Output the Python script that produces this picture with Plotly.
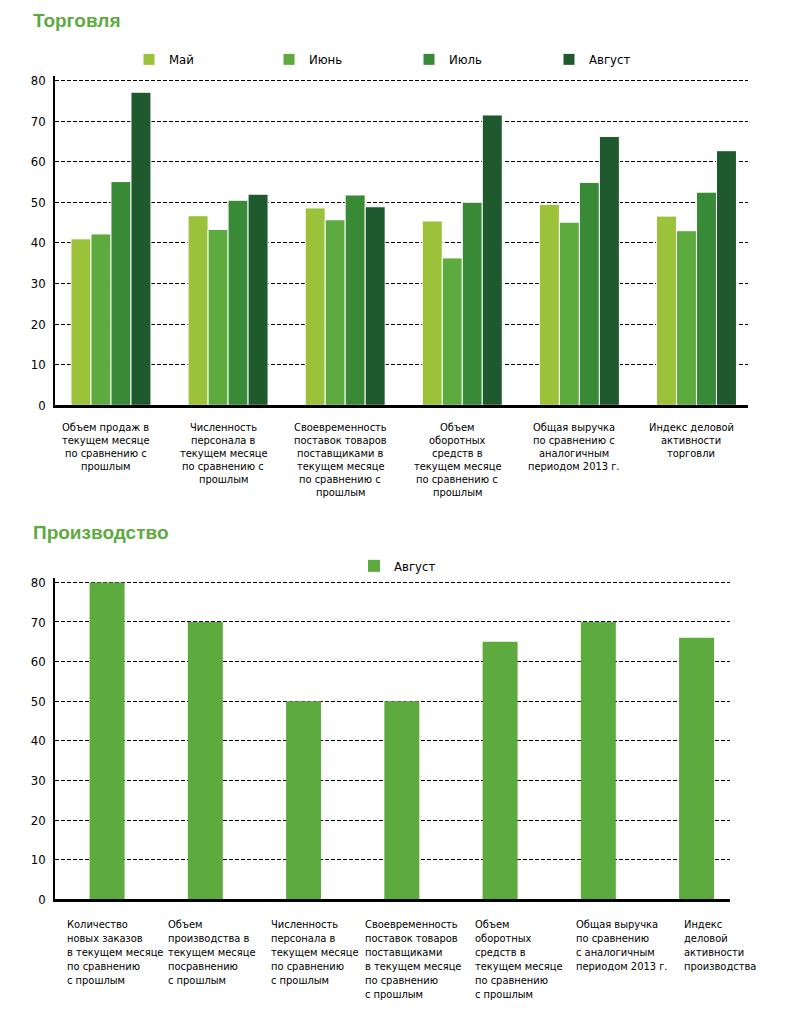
import plotly.graph_objects as go

# ---------------- DATA ----------------
trade_categories = [
    "Объем продаж в\nтекущем месяце\nпо сравнению с\nпрошлым",
    "Численность\nперсонала в\nтекущем месяце\nпо сравнению с\nпрошлым",
    "Своевременность\nпоставок товаров\nпоставщиками в\nтекущем месяце\nпо сравнению с\nпрошлым",
    "Объем\nоборотных\nсредств в\nтекущем месяце\nпо сравнению с\nпрошлым",
    "Общая выручка\nпо сравнению с\nаналогичным\nпериодом 2013 г.",
    "Индекс деловой\nактивности\nторговли",
]
trade_months = ["Май", "Июнь", "Июль", "Август"]
trade_may = [41.0, 46.7, 48.6, 45.4, 49.5, 46.6]
trade_june = [42.2, 43.3, 45.7, 36.3, 45.1, 43.0]
trade_july = [55.1, 50.5, 51.8, 50.0, 54.9, 52.5]
trade_august = [77.1, 52.0, 48.9, 71.5, 66.2, 62.7]
trade_values = [trade_may, trade_june, trade_july, trade_august]

prod_categories = [
    "Количество\nновых заказов\nв текущем месяце\nпо сравнению\nс прошлым",
    "Объем\nпроизводства в\nтекущем месяце\nпосравнению\nс прошлым",
    "Численность\nперсонала в\nтекущем месяце\nпо сравнению\nс прошлым",
    "Своевременность\nпоставок товаров\nпоставщиками\nв текущем месяце\nпо сравнению\nс прошлым",
    "Объем\nоборотных\nсредств в\nтекущем месяце\nпо сравнению\nс прошлым",
    "Общая выручка\nпо сравнению\nс аналогичным\nпериодом 2013 г.",
    "Индекс\nделовой\nактивности\nпроизводства",
]
prod_series_name = "Август"
prod_august = [80, 70, 50, 50, 65, 70, 66]

y_ticks = [0, 10, 20, 30, 40, 50, 60, 70, 80]

# ---------------- STYLE ----------------
W, H = 788, 1024
FONT = "DejaVu Sans Condensed, Liberation Sans Narrow, Arial Narrow, sans-serif"
TITLE_FONT = "Liberation Sans, Arial, sans-serif"
TITLE_GREEN = "#5DAA3F"
month_colors = ["#9BC23A", "#5DAA3F", "#388A36", "#1F5A2E"]
prod_color = "#5DAA3F"


def px_x(p):
    return p / W


def px_y(p):
    return 1 - p / H


fig = go.Figure()

# Top chart: grouped bars
for name, vals, col in zip(trade_months, trade_values, month_colors):
    fig.add_trace(go.Bar(
        x=trade_categories, y=vals, name=name,
        marker=dict(color=col, line=dict(color="white", width=1)),
        xaxis="x", yaxis="y", legend="legend",
        hoverinfo="skip",
    ))

# Bottom chart
fig.add_trace(go.Bar(
    x=prod_categories, y=prod_august, name=prod_series_name,
    marker=dict(color=prod_color, line=dict(color="white", width=0)),
    width=0.356,
    xaxis="x2", yaxis="y2", legend="legend2",
    hoverinfo="skip",
))

# Axis geometry (pixels)
Y_TOP = 81
top_left, top_right, top_bottom = 55, 748, 406.7
top_scale = 4.105
top_top = top_bottom - Y_TOP * top_scale
bot_left, bot_right, bot_bottom = 55, 730, 906
bot_scale = 4.004
bot_top = bot_bottom - Y_TOP * bot_scale

yaxis_common = dict(
    range=[0, Y_TOP], tickvals=y_ticks, showgrid=True, gridcolor="black",
    gridwidth=1.3, griddash="4px,2px", showline=True, linecolor="black",
    linewidth=1.5, ticks="", zeroline=False,
    tickfont=dict(family=FONT, size=13, color="black"),
    ticklabelstandoff=5, fixedrange=True,
)

fig.update_layout(
    width=W, height=H,
    margin=dict(l=0, r=0, t=0, b=0),
    paper_bgcolor="white", plot_bgcolor="white",
    barmode="group",
    bargap=0.317, bargroupgap=0.0,
    showlegend=True,
    xaxis=dict(
        domain=[px_x(top_left), px_x(top_right)],
        anchor="y", showticklabels=False, ticks="",
        showline=True, linecolor="black", linewidth=2.5,
        range=[-0.478, 5.44], showgrid=False, fixedrange=True,
    ),
    yaxis=dict(domain=[px_y(top_bottom), px_y(top_top)], anchor="x", **yaxis_common),
    xaxis2=dict(
        domain=[px_x(bot_left), px_x(bot_right)],
        anchor="y2", showticklabels=False, ticks="",
        showline=True, linecolor="black", linewidth=2.5,
        range=[-0.53, 6.34], showgrid=False, fixedrange=True,
    ),
    yaxis2=dict(domain=[px_y(bot_bottom), px_y(bot_top)], anchor="x2", **yaxis_common),
    legend=dict(
        orientation="h", x=px_x(129), y=px_y(57), xanchor="left", yanchor="middle",
        entrywidth=95, entrywidthmode="pixels", itemwidth=30,
        font=dict(family=FONT, size=13, color="black"),
        bgcolor="rgba(0,0,0,0)", itemclick=False, itemdoubleclick=False,
    ),
    legend2=dict(
        orientation="h", x=px_x(354), y=px_y(569), xanchor="left", yanchor="middle",
        itemwidth=30,
        font=dict(family=FONT, size=13, color="black"),
        bgcolor="rgba(0,0,0,0)", itemclick=False, itemdoubleclick=False,
    ),
)

annotations = []
# Titles
annotations.append(dict(text="<b>Торговля</b>", x=px_x(31), y=px_y(18), xref="paper", yref="paper",
                        xanchor="left", yanchor="middle", showarrow=False,
                        font=dict(family=TITLE_FONT, size=19, color=TITLE_GREEN)))
annotations.append(dict(text="<b>Производство</b>", x=px_x(31), y=px_y(535), xref="paper", yref="paper",
                        xanchor="left", yanchor="middle", showarrow=False,
                        font=dict(family=TITLE_FONT, size=19, color=TITLE_GREEN)))

# Top category labels (centered, one annotation per line)
for cat in trade_categories:
    for i, line in enumerate(cat.split("\n")):
        annotations.append(dict(
            text=line, x=cat, y=0, xref="x", yref="y",
            xanchor="center", yanchor="middle", showarrow=False,
            xshift=-5, yshift=-(22 + 13 * i),
            font=dict(family=FONT, size=11, color="black"),
        ))

# Bottom category labels (left-aligned)
prod_label_shift = [-42, -39, -35, -38.5, -27.5, -24, -15]
for cat, sh in zip(prod_categories, prod_label_shift):
    for i, line in enumerate(cat.split("\n")):
        annotations.append(dict(
            text=line, x=cat, y=0, xref="x2", yref="y2",
            xanchor="left", yanchor="middle", showarrow=False,
            xshift=sh, yshift=-(25 + 14 * i),
            font=dict(family=FONT, size=11, color="black"),
        ))

fig.update_layout(annotations=annotations)

fig.write_html(
    "out.html",
    config={"displayModeBar": False},
    post_script="document.body.style.margin='0';document.body.style.padding='0';",
)
